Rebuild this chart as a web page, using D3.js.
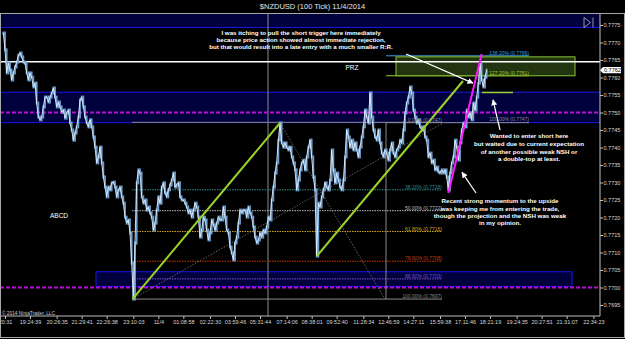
<!DOCTYPE html>
<html>
<head>
<meta charset="utf-8">
<script src="https://cdn.jsdelivr.net/npm/d3@7"></script>
<style>
  body { margin: 0; background: #000; }
  svg { display: block; font-family: "Liberation Sans", Arial, sans-serif; }
</style>
</head>
<body>
<script>
// 100 tick bars, closes (first bar index = 2)
var firstBar = 2;
var closes = [
  0.77727,0.77679,0.77613,0.77641,0.77621,0.77593,0.77613,0.7763,0.77644,0.77664,
  0.7767,0.77659,0.77644,0.77641,0.77613,0.77593,0.77613,0.77601,0.77573,0.77584,
  0.77527,0.77487,0.77479,0.77487,0.77516,0.77544,0.77544,0.7753,0.77544,0.77556,
  0.7757,0.77544,0.77516,0.7753,0.77516,0.77501,0.77507,0.77484,0.77499,0.77507,
  0.7747,0.7745,0.77421,0.77441,0.77459,0.77487,0.77536,0.77544,0.77516,0.77487,
  0.7747,0.77459,0.77479,0.77459,0.7743,0.77401,0.77356,0.77373,0.77401,0.77356,
  0.77316,0.77287,0.77259,0.77287,0.77279,0.77299,0.77301,0.77287,0.77259,0.77279,
  0.77287,0.77259,0.77241,0.77201,0.77184,0.77193,0.77156,0.7707,0.76967,0.77127,
  0.77299,0.77336,0.77327,0.77259,0.77241,0.7725,0.77221,0.7723,0.77213,0.77201,
  0.77164,0.77184,0.77221,0.77259,0.77241,0.77287,0.77299,0.7727,0.77259,
  0.77279,0.77293,0.77307,0.77327,0.77287,0.77293,0.77299,0.77259,0.7725,0.7725,
  0.77241,0.7723,0.77213,0.77221,0.77201,0.77221,0.77241,0.7723,0.77201,0.77144,
  0.77164,0.77201,0.77193,0.77164,0.77136,0.77156,0.77193,0.77179,0.77164,0.77184,
  0.77201,0.77193,0.77193,0.7723,0.77201,0.77164,0.77156,0.77116,0.77099,0.77079,
  0.77127,0.77144,0.77184,0.77221,0.77213,0.77221,0.77221,0.77201,0.7723,0.77213,
  0.77201,0.77173,0.77144,0.77127,0.77136,0.77156,0.77144,0.77164,0.77156,0.77173,
  0.77201,0.77193,0.7725,0.77287,0.77327,0.77356,0.77421,0.7747,0.77413,0.77401,
  0.77413,0.77401,0.77393,0.77401,0.77373,0.77356,0.77336,0.77279,0.77307,0.77336,
  0.77356,0.77364,0.77336,0.77373,0.77401,0.77421,0.77373,0.77316,0.77279,0.7709,
  0.77241,0.7723,0.77259,0.77279,0.77299,0.77287,0.77279,0.77307,0.77393,
  0.77336,0.77299,0.77327,0.77307,0.77287,0.77279,0.77307,0.77373,0.7745,0.7743,
  0.77401,0.77421,0.77393,0.77413,0.77393,0.77373,0.77401,0.7743,0.77459,0.77507,
  0.77487,0.7747,0.77556,0.77487,0.7745,0.7743,0.77421,0.7745,0.77413,0.77384,
  0.77373,0.77393,0.77384,0.77364,0.77393,0.77413,0.77384,0.77373,0.77393,0.77401,
  0.77421,0.77413,0.7745,0.77499,0.77527,0.77544,0.77573,0.77556,0.77507,0.77487,
  0.7747,0.77479,0.77459,0.7745,0.77459,0.7743,0.77421,0.77373,0.77384,0.77356,
  0.77364,0.77336,0.77344,0.7733,0.77327,0.77336,0.77327,0.77336,0.77316,0.77279,
  0.77327,0.77356,0.77373,0.77421,0.77401,0.77364,0.77413,0.7745,0.7747,0.77459,
  0.77507,0.77487,0.77499,0.77479,0.77527,0.77507,0.77544,0.77584,0.77641,0.77593,
  0.77573,0.77601,0.77621
];

var priceTicks = [0.7695,0.7700,0.7705,0.7710,0.7715,0.7720,0.7725,0.7730,0.7735,
                  0.7740,0.7745,0.7750,0.7755,0.7760,0.7765,0.7770,0.7775];
var timeLabels = ["20:31","19:24:39","20:26:35","21:29:41","22:26:38","23:10:03","11/4",
  "01:08:58","02:22:30","03:59:46","05:31:44","07:14:06","08:38:01","09:52:40","11:28:34",
  "12:46:59","14:27:11","15:59:38","17:11:46","18:21:19","19:24:35","20:27:51","21:31:07","22:34:23"];
var timeTickBars = [3,18,34,49,64,80,95,110,126,141,156,172,187,202,218,233,248,264,279,294,310,325,340,356];

// zones (navy boxes) : [fromBar, toBar, top, bottom]
var zoneTop = [0, 360, 0.7781, 0.77743];
var zoneMid = [0, 360, 0.77558, 0.77471];
var zoneLow = [57.6, 343.2, 0.77045, 0.77003];
var dashedLevels = [0.7750, 0.7700];
var whiteLevel = 0.77645;
var sessionBar = 160.8;

// fibonacci retracement
var fibHigh = 0.77472, fibLow = 0.76967, fibFrom = 79.2, fibTo = 265.2;
var fibPct = [0, 38.2, 50, 61.8, 78.6, 88.6, 100];
var fibLabel = ["0.7747","0.7728","0.7722","0.7716","0.7708","0.7703","0.7697"];
var fibColor = ["#8a8a8a","#2f8c8c","#bcbcbc","#d8a51e","#c8380f","#7b52d0","#8a8a8a"];

// projection levels
var projFrom = 231.6, projTo = 317.4;
var projPct = [100, 127.2, 138.2];
var projLevel = [0.77471, 0.77605, 0.77662];
var projLabel = ["0.7747","0.7761","0.7766"];
var projColor = ["#8a8a8a","#9acd32","#3a9fe0"];
var przBox = [237.6, 345, 0.77659, 0.77605];

// drawn lines : [bar, price] pairs
var legAB = [[79.5, 0.76967], [168, 0.7747]];
var legCD = [[190.2, 0.7709], [277.8, 0.7759]];
var legMagenta = [[269, 0.7727], [289, 0.77667]];
var dotA = [[79.5, 0.76967], [265.8, 0.7747]];
var dotB = [[168, 0.7747], [231, 0.76967]];
var vertC = [[231.6, 0.7747], [231.6, 0.76967]];
var shortRay = [[289.2, 0.77557], [307.8, 0.77557]];
var arrows = [
  [[243.6, 0.77667], [283.8, 0.77584]],
  [[300, 0.7745], [295.8, 0.77536]],
  [[285.6, 0.7727], [277.2, 0.77329]]
];

// notes
var note1 = ["I was itching to pull the short trigger here immediately",
             "because price action showed almost immediate rejection,",
             "but that would result into a late entry with a much smaller R:R."];
var note2 = ["Wanted to enter short here",
             "but waited due to current expectation",
             "of another possible weak NSH or",
             "a double-top at least."];
var note3 = ["Recent strong momentum to the upside",
             "was keeping me from entering the trade,",
             "though the projection and the NSH was weak",
             "in my opinion."];
var noteAt = [[180.6, 0.77728], [317.4, 0.77433], [300, 0.77247]];
var przAt = [211.2, 0.77629];
var abcdAt = [35.4, 0.77204];

var width = 625, height = 339;
var plotL = 0, plotR = 600, plotT = 13.5, plotB = 316;

var svg = d3.select("body").append("svg")
    .attr("width", width)
    .attr("height", height);

svg.append("rect").attr("width", width).attr("height", height).attr("fill", "#000");

var x = d3.scaleLinear().domain([0, 360]).range([0, 600]);
var y = d3.scaleLinear().domain([0.7695, 0.7775]).range([305, 25]);

svg.append("defs").append("clipPath").attr("id", "plotclip")
  .append("rect").attr("x", plotL).attr("y", plotT).attr("width", plotR - plotL).attr("height", plotB - plotT);

svg.select("defs").append("marker")
    .attr("id", "head").attr("viewBox", "0 0 10 10")
    .attr("refX", 9).attr("refY", 5)
    .attr("markerWidth", 5).attr("markerHeight", 5)
    .attr("orient", "auto")
  .append("path").attr("d", "M0,0L10,5L0,10z").attr("fill", "#fff");

// title
svg.append("text")
    .attr("x", width / 2).attr("y", 9)
    .attr("text-anchor", "middle")
    .attr("fill", "#e6e6e6")
    .style("font-size", "7.5px")
    .text("$NZDUSD (100 Tick)  11/4/2014");

var g = svg.append("g").attr("clip-path", "url(#plotclip)");

// navy zones
[zoneTop, zoneMid, zoneLow].forEach(function(z) {
  g.append("rect")
      .attr("x", x(z[0])).attr("y", y(z[2]))
      .attr("width", x(z[1]) - x(z[0]))
      .attr("height", y(z[3]) - y(z[2]))
      .attr("fill", "#00003c")
      .attr("stroke", "#1616ee")
      .attr("stroke-width", 1);
});

// session break
g.append("line")
    .attr("x1", x(sessionBar)).attr("x2", x(sessionBar))
    .attr("y1", plotT).attr("y2", plotB)
    .attr("stroke", "#8c8c8c").attr("stroke-width", 1);

var line = d3.line()
    .x(function(d) { return x(d[0]); })
    .y(function(d) { return y(d[1]); });

// fib retracement lines
fibPct.forEach(function(p, i) {
  var lv = fibHigh - p / 100 * (fibHigh - fibLow);
  g.append("line")
      .attr("x1", x(fibFrom)).attr("x2", x(fibTo))
      .attr("y1", y(lv)).attr("y2", y(lv))
      .attr("stroke", fibColor[i])
      .attr("stroke-width", 1)
      .attr("stroke-dasharray", (p === 0 || p === 100) ? null : "1.5,1");
});

// projection lines
projPct.forEach(function(p, i) {
  g.append("line")
      .attr("x1", x(projFrom)).attr("x2", x(projTo))
      .attr("y1", y(projLevel[i])).attr("y2", y(projLevel[i]))
      .attr("stroke", projColor[i]).attr("stroke-width", 1);
});

// PRZ box
g.append("rect")
    .attr("x", x(przBox[0])).attr("y", y(przBox[2]))
    .attr("width", x(przBox[1]) - x(przBox[0]))
    .attr("height", y(przBox[3]) - y(przBox[2]))
    .attr("fill", "#223510")
    .attr("stroke", "#8cc43a").attr("stroke-width", 1);

// dashed magenta levels
dashedLevels.forEach(function(l) {
  g.append("line")
      .attr("x1", plotL).attr("x2", plotR)
      .attr("y1", y(l)).attr("y2", y(l))
      .attr("stroke", "#b80fd6").attr("stroke-width", 2)
      .attr("stroke-dasharray", "4,2");
});

// white horizontal line
g.append("line")
    .attr("x1", plotL).attr("x2", plotR)
    .attr("y1", y(whiteLevel)).attr("y2", y(whiteLevel))
    .attr("stroke", "#fff").attr("stroke-width", 1.5);

// gray dotted helper lines
[dotA, dotB].forEach(function(d) {
  g.append("path").attr("d", line(d))
      .attr("stroke", "#7a7a7a").attr("stroke-width", 0.8)
      .attr("stroke-dasharray", "1.5,1.5").attr("fill", "none");
});
g.append("path").attr("d", line(vertC))
    .attr("stroke", "#8a8a8a").attr("stroke-width", 1).attr("fill", "none");

// price bars
var bars = closes.map(function(c, i) { return [firstBar + i, c]; });
g.selectAll(".bar")
  .data(bars)
  .enter().append("rect")
    .attr("class", "bar")
    .attr("x", function(d) { return x(d[0]) - 0.9; })
    .attr("width", 1.8)
    .attr("y", function(d, i) {
      var prev = i > 0 ? bars[i - 1][1] : d[1];
      return y(Math.max(prev, d[1])) - 1.5;
    })
    .attr("height", function(d, i) {
      var prev = i > 0 ? bars[i - 1][1] : d[1];
      return Math.abs(y(prev) - y(d[1])) + 3;
    })
    .attr("fill", "#6f9fce");

g.append("path")
    .attr("d", line(bars))
    .attr("fill", "none")
    .attr("stroke", "#e4f2ff")
    .attr("stroke-width", 0.9);

// ABCD legs
[legAB, legCD].forEach(function(d) {
  g.append("path").attr("d", line(d))
      .attr("stroke", "#9ad22a").attr("stroke-width", 2).attr("fill", "none");
});
g.append("path").attr("d", line(legMagenta))
    .attr("stroke", "#ff1aff").attr("stroke-width", 2).attr("fill", "none");
g.append("path").attr("d", line(shortRay))
    .attr("stroke", "#9ad22a").attr("stroke-width", 1.5).attr("fill", "none");

// arrows
arrows.forEach(function(a) {
  g.append("path").attr("d", line(a))
      .attr("stroke", "#fff").attr("stroke-width", 1.2).attr("fill", "none")
      .attr("marker-end", "url(#head)");
});

// fib labels
fibPct.forEach(function(p, i) {
  var lv = fibHigh - p / 100 * (fibHigh - fibLow);
  g.append("text")
      .attr("x", x(fibTo)).attr("y", y(lv) - 0.8)
      .attr("text-anchor", "end")
      .attr("fill", fibColor[i])
      .style("font-size", "5px")
      .text(p.toFixed(2) + "% (" + fibLabel[i] + ")");
});
projPct.forEach(function(p, i) {
  g.append("text")
      .attr("x", x(projTo)).attr("y", y(projLevel[i]) - 1.2)
      .attr("text-anchor", "end")
      .attr("fill", projColor[i])
      .style("font-size", "5px")
      .text(p.toFixed(2) + "% (" + projLabel[i] + ")");
});

// notes
[[note1, 7.3], [note2, 7.7], [note3, 7.3]].forEach(function(n, k) {
  var t = g.append("text")
      .attr("text-anchor", "middle")
      .attr("fill", "#fff")
      .style("font-size", "6.2px")
      .style("font-weight", "bold");
  n[0].forEach(function(s, j) {
    t.append("tspan")
        .attr("x", x(noteAt[k][0]))
        .attr("y", y(noteAt[k][1]) + j * n[1])
        .attr("dy", "0.35em")
        .text(s);
  });
});

g.append("text")
    .attr("x", x(przAt[0])).attr("y", y(przAt[1])).attr("dy", "0.35em")
    .attr("text-anchor", "middle").attr("fill", "#fff")
    .style("font-size", "6.5px")
    .text("PRZ");
g.append("text")
    .attr("x", x(abcdAt[0])).attr("y", y(abcdAt[1])).attr("dy", "0.35em")
    .attr("text-anchor", "middle").attr("fill", "#fff")
    .style("font-size", "6.5px")
    .text("ABCD");

g.append("text")
    .attr("x", 2).attr("y", plotB - 1.5)
    .attr("fill", "#cfcfcf")
    .style("font-size", "4.8px")
    .text("\u00a9 2014 NinjaTrader, LLC");

// scroll-to-end icon
svg.append("path")
    .attr("d", "M" + (plotR - 16) + ",17.5 L" + (plotR - 16) + ",27.5 L" + (plotR - 9.5) + ",22.5 Z M" + (plotR - 7) + ",17.5 L" + (plotR - 7) + ",27.5")
    .attr("fill", "none").attr("stroke", "#bdbdbd").attr("stroke-width", 0.8);

// axes
var yAxis = d3.axisRight(y)
    .tickValues(priceTicks)
    .tickSize(3)
    .tickFormat(d3.format(".4f"));
var ya = svg.append("g")
    .attr("transform", "translate(" + plotR + ",0)")
    .call(yAxis);
ya.select(".domain").remove();
ya.selectAll("line").attr("stroke", "#bdbdbd");
ya.selectAll("text").attr("fill", "#d8d8d8").style("font-size", "5.5px").attr("x", 3.5);

var xAxis = d3.axisBottom(x)
    .tickValues(timeTickBars)
    .tickSize(3)
    .tickFormat(function(d, i) { return timeLabels[i]; });
var xa = svg.append("g")
    .attr("transform", "translate(0," + plotB + ")")
    .call(xAxis);
xa.select(".domain").remove();
xa.selectAll("line").attr("stroke", "#bdbdbd");
xa.selectAll("text").attr("fill", "#d8d8d8").style("font-size", "5.5px").attr("y", 4.5);

// frame and axis lines
svg.append("line").attr("x1", plotL).attr("x2", plotR).attr("y1", plotB).attr("y2", plotB)
    .attr("stroke", "#bdbdbd");
svg.append("line").attr("x1", plotR).attr("x2", plotR).attr("y1", plotT).attr("y2", plotB)
    .attr("stroke", "#bdbdbd");
svg.append("rect")
    .attr("x", 0.5).attr("y", plotT)
    .attr("width", width - 1).attr("height", 337.5 - plotT)
    .attr("fill", "none").attr("stroke", "#a8a8a8");

// last price marker
var last = closes[closes.length - 1];
var ly = y(last);
svg.append("path")
    .attr("d", "M" + plotR + "," + ly + "L" + (plotR + 3) + "," + (ly - 3.2) + "L" + (plotR + 21) + "," + (ly - 3.2) +
               "L" + (plotR + 21) + "," + (ly + 3.2) + "L" + (plotR + 3) + "," + (ly + 3.2) + "Z")
    .attr("fill", "#fff");
svg.append("text")
    .attr("x", plotR + 4).attr("y", ly).attr("dy", "0.35em")
    .attr("fill", "#000").style("font-size", "5.5px")
    .text(last.toFixed(4));
</script>
</body>
</html>
